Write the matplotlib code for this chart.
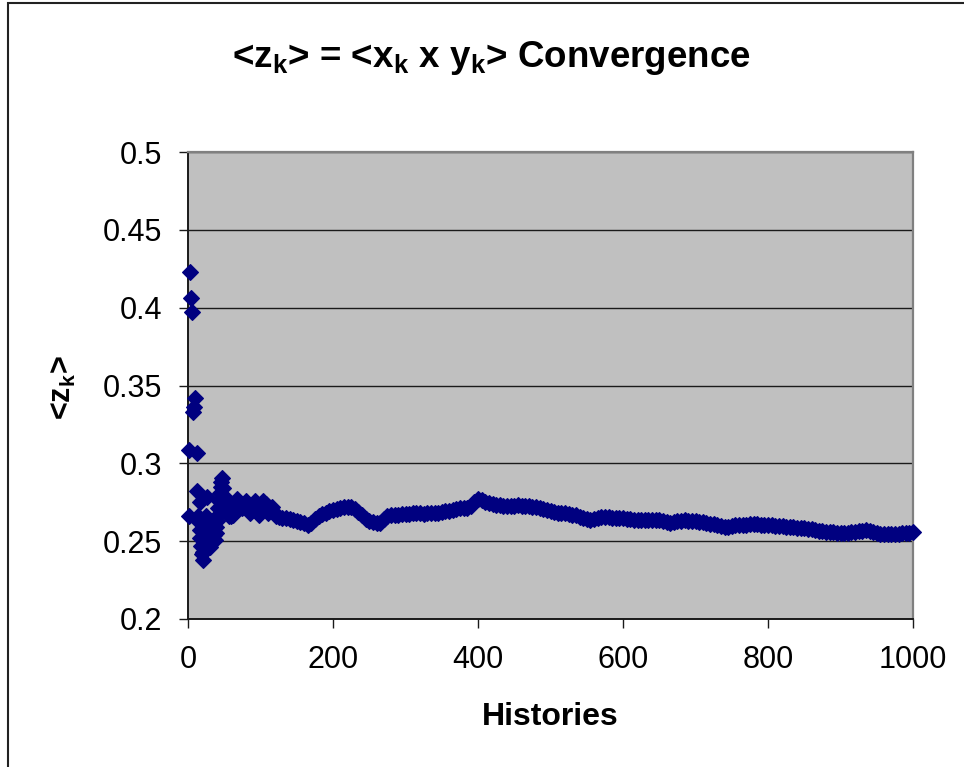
import matplotlib
matplotlib.use("Agg")
import matplotlib.pyplot as plt
from matplotlib.patches import Rectangle
from matplotlib.ticker import FuncFormatter

plt.rcParams['font.family'] = ['Liberation Sans', 'DejaVu Sans']

# running estimate of <z_k> for the first histories (scattered start)
early_hist = [1, 2, 3, 4, 6, 7, 8, 9, 12, 13, 17, 26,
              14, 15, 16, 17, 18, 19, 20, 21, 22, 23, 24, 25, 26, 27, 28, 29,
              30, 31, 32, 33, 34, 35, 36, 37, 38, 39, 40, 41, 42, 43, 44, 45,
              46, 47, 48, 49,
              50, 53, 56, 59, 62, 65, 68, 71, 74, 77, 80, 83, 86, 89, 92, 95,
              98, 101, 104, 107, 110, 113, 116, 119, 122]
early_z = [0.266, 0.3085, 0.423, 0.406, 0.397, 0.333, 0.336, 0.342, 0.3065, 0.2823, 0.2753, 0.2785,
           0.266, 0.262, 0.257, 0.252, 0.247, 0.242, 0.2378, 0.243, 0.249, 0.255, 0.261, 0.266,
           0.262, 0.257, 0.252, 0.248, 0.246, 0.249, 0.253, 0.257, 0.261, 0.258, 0.254, 0.251,
           0.255, 0.259, 0.263, 0.267, 0.271, 0.276, 0.281, 0.285,
           0.288, 0.2903, 0.284, 0.279,
           0.275, 0.270, 0.266, 0.266, 0.2665, 0.272, 0.277, 0.275, 0.271, 0.272, 0.276, 0.274,
           0.268, 0.270, 0.276, 0.273, 0.267, 0.270, 0.276, 0.274, 0.268, 0.270, 0.272, 0.268,
           0.266]

# settled part, every 5 histories from 125 to 1000
tail_hist = list(range(125, 1001, 5))
tail_z = [
    0.2655, 0.2652, 0.2649, 0.2645, 0.2638, 0.263, 0.2622, 0.2614, 0.2605, 0.2618,
    0.264, 0.266, 0.2672, 0.2682, 0.2691, 0.2698, 0.2705, 0.2712, 0.2718, 0.2718,
    0.2717, 0.2705, 0.269, 0.2665, 0.2645, 0.263, 0.2625, 0.2618, 0.2615, 0.2642,
    0.2661, 0.2665, 0.2668, 0.267, 0.2672, 0.2674, 0.2677, 0.2678, 0.268, 0.2678,
    0.2676, 0.2678, 0.268, 0.268, 0.2683, 0.2686, 0.2691, 0.2695, 0.27, 0.2708,
    0.2712, 0.2711, 0.2712, 0.2728, 0.2752, 0.277, 0.2762, 0.275, 0.2745, 0.2739,
    0.2735, 0.273, 0.2727, 0.2726, 0.2725, 0.2728, 0.273, 0.2729, 0.2728, 0.2726,
    0.2722, 0.2718, 0.2712, 0.2706, 0.27, 0.2695, 0.2688, 0.2682, 0.268, 0.2678,
    0.2675, 0.267, 0.2665, 0.2658, 0.265, 0.2641, 0.2635, 0.2641, 0.2648, 0.2654,
    0.2656, 0.2654, 0.2652, 0.265, 0.2648, 0.2646, 0.2644, 0.2641, 0.2637, 0.2635,
    0.2635, 0.2635, 0.2637, 0.2639, 0.2638, 0.2634, 0.263, 0.2624, 0.2619, 0.2623,
    0.2627, 0.263, 0.2633, 0.2632, 0.263, 0.2628, 0.2624, 0.262, 0.2616, 0.2612,
    0.2608, 0.2603, 0.2598, 0.2591, 0.2588, 0.2595, 0.2601, 0.2603, 0.2604, 0.2605,
    0.2608, 0.2611, 0.2609, 0.2606, 0.2605, 0.2604, 0.2602, 0.26, 0.2598, 0.2595,
    0.2592, 0.259, 0.2589, 0.2587, 0.2585, 0.2582, 0.2578, 0.2575, 0.2571, 0.2567,
    0.2565, 0.2562, 0.256, 0.2557, 0.2555, 0.2554, 0.2553, 0.2555, 0.2557, 0.256,
    0.2564, 0.2567, 0.257, 0.2565, 0.256, 0.2552, 0.2547, 0.2547, 0.2547, 0.2547,
    0.2547, 0.2548, 0.255, 0.2552, 0.2555, 0.256,
]

x_ticks = [0, 200, 400, 600, 800, 1000]
y_ticks = [0.2, 0.25, 0.3, 0.35, 0.4, 0.45, 0.5]

fig = plt.figure(figsize=(9.64, 7.67), dpi=100)
ax = fig.add_axes([188 / 964, 1 - 619 / 767, 725 / 964, 467 / 767])
ax.set_facecolor('#C0C0C0')

navy = '#000080'
ax.plot(early_hist + tail_hist, early_z + tail_z, linestyle='none', marker='D',
        ms=8.3, color=navy, mec=navy, mew=0.8, clip_on=False, zorder=3)

ax.set_xlim(0, 1000)
ax.set_ylim(0.2, 0.5)
ax.set_xticks(x_ticks)
ax.set_yticks(y_ticks)
ax.yaxis.set_major_formatter(FuncFormatter(lambda v, p: f'{v:g}'))
ax.yaxis.grid(True, color='#1a1a1a', linewidth=1.0)
ax.set_axisbelow(True)

ax.tick_params(axis='both', direction='out', length=6.5, width=1.0,
               labelsize=22, pad=12, color='#1a1a1a')
for side in ('left', 'bottom'):
    ax.spines[side].set_color('#1a1a1a')
    ax.spines[side].set_linewidth(1.4)
for side in ('top', 'right'):
    ax.spines[side].set_color('#808080')
    ax.spines[side].set_linewidth(1.6)

fig.text(491 / 964, 1 - 58 / 767,
         r'<z$_\mathregular{k}$> = <x$_\mathregular{k}$ x y$_\mathregular{k}$> Convergence',
         ha='center', va='center', fontsize=26.5, fontweight='bold')
fig.text(550 / 964, 1 - 717 / 767, 'Histories', ha='center', va='center',
         fontsize=23, fontweight='bold')
fig.text(63 / 964, 1 - 388 / 767, r'<z$_\mathregular{k}$>', ha='center', va='center',
         rotation=90, fontsize=22, fontweight='bold')

# chart-area frame
fig.patches.append(Rectangle((8 / 964, -0.2), 1.5, 1.2 - 3 / 767, transform=fig.transFigure,
                             fill=False, edgecolor='#222222', linewidth=1.5))

fig.savefig('out.png', dpi=100)
